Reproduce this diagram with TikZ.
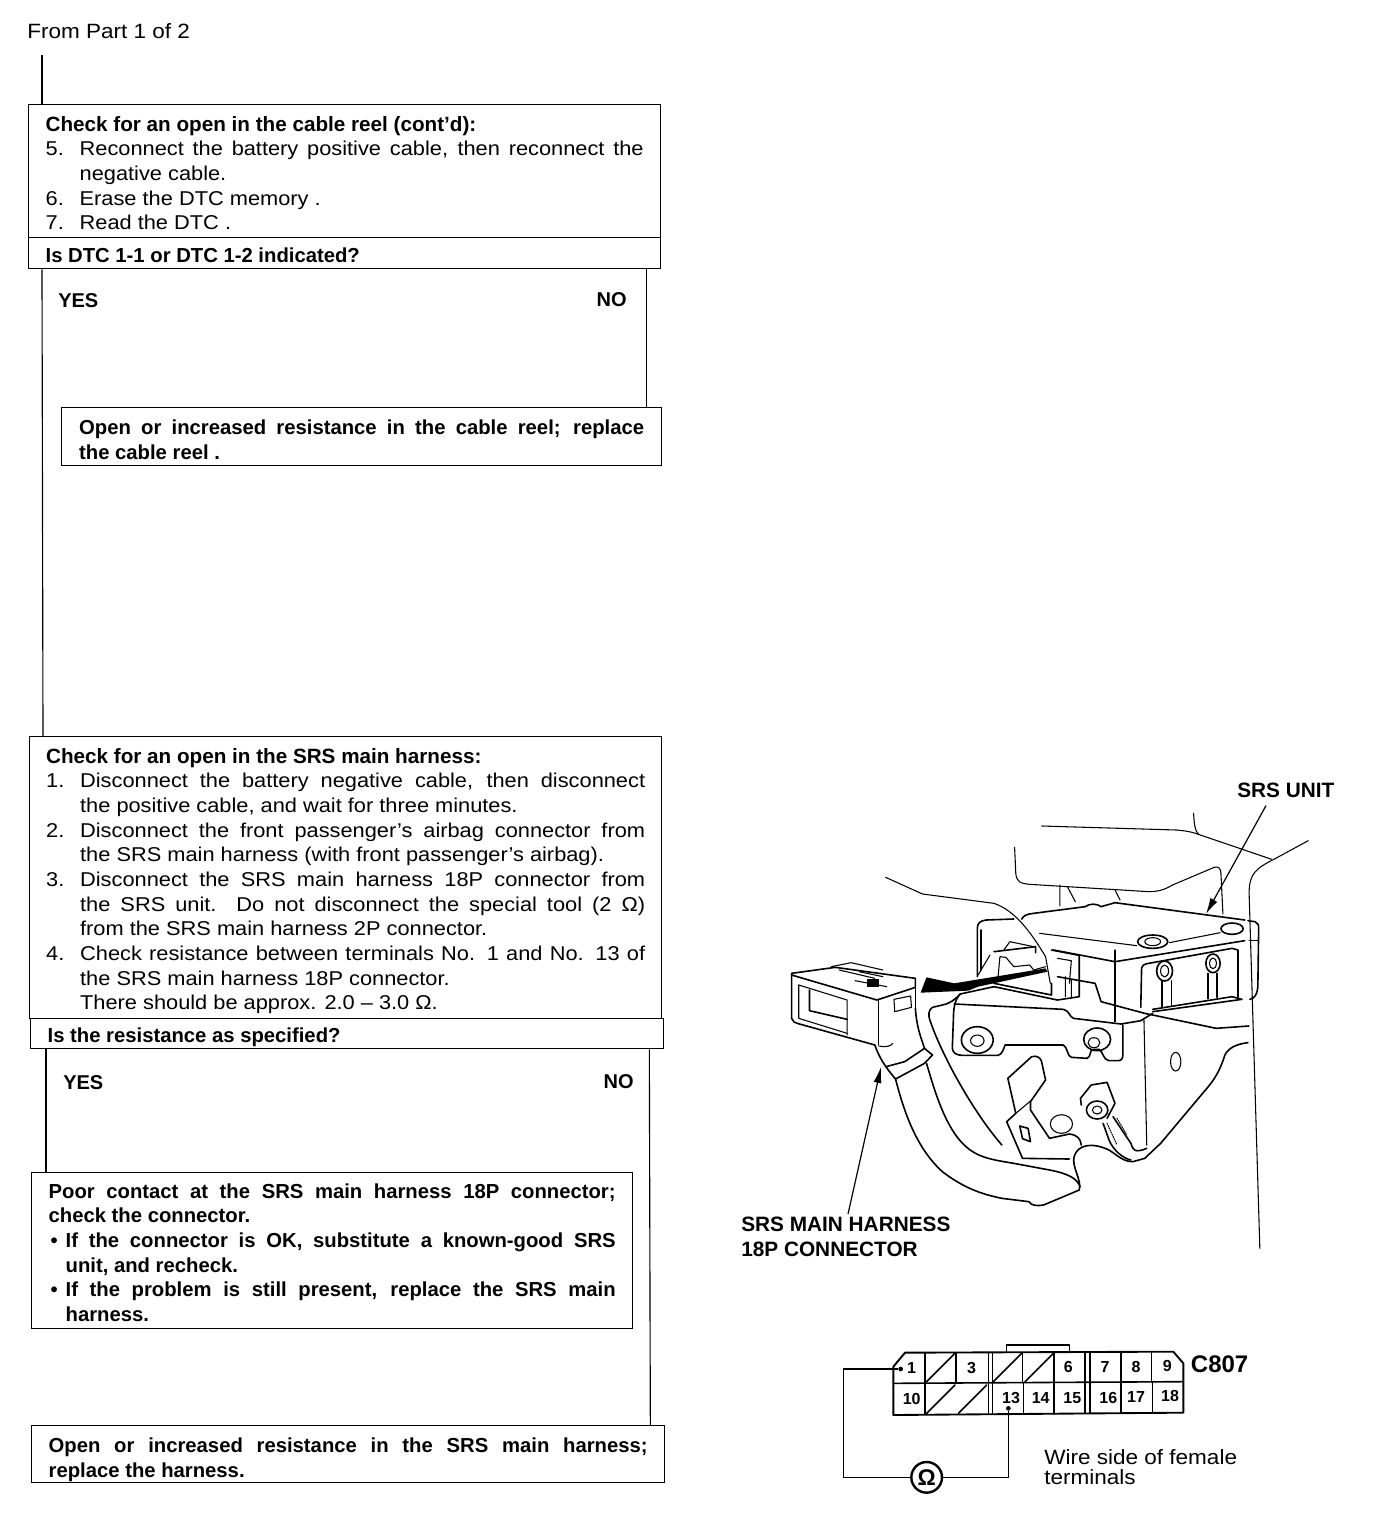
\documentclass[tikz,border=0pt]{standalone}
\usepackage{fontspec}
\setmainfont{Liberation Sans}
\newfontfamily\reg[FakeStretch=1.09]{Liberation Sans}
\usetikzlibrary{arrows.meta}
\newdimen\pxu \pxu=0.75pt
\newcommand{\tb}[3]{\vbox{\hsize=#1\pxu\vskip#2\pxu #3}}
\newcommand{\jl}[1]{\hbox to \hsize{#1}}
\newcommand{\nl}[2]{\hbox to \hsize{\hbox to 34\pxu{#1\hfil}#2}}
\newcommand{\cl}[1]{\hbox to \hsize{\hskip34\pxu #1}}
\newcommand{\rl}[1]{\hbox{#1}}
\newcommand{\ri}[1]{\hbox{\hskip34\pxu #1}}
\newcommand{\hd}[1]{\hbox{\normalfont\fontsize{15.5}{18.5}\selectfont\bfseries #1}}
\tikzset{
  stepbox/.style={draw,line width=1pt,anchor=north west,inner ysep=0pt,inner xsep=0pt,font=\reg\fontsize{15}{18.5}\selectfont},
  boldbox/.style={stepbox,font=\normalfont\fontsize{15.2}{18.5}\selectfont\bfseries},
  flow/.style={line width=0.85pt},
  tag/.style={anchor=west,inner sep=0pt,font=\fontsize{15}{18.5}\selectfont\bfseries},
  biglabel/.style={inner sep=0pt,font=\fontsize{15.6}{18.5}\selectfont\bfseries},
  plain/.style={anchor=west,inner sep=0pt,font=\reg\fontsize{15.5}{15}\selectfont},
  art/.style={line width=0.8pt,line join=round,line cap=round},
  thickart/.style={line width=1.2pt,line join=round,line cap=round},
  pin/.style={inner sep=0pt,font=\fontsize{12}{12}\selectfont\bfseries},
  probe/.style={circle,fill,inner sep=0pt,minimum size=3.5pt},
  lead/.style={line width=0.9pt,-{Latex[length=12pt,width=6pt]}},
}
\begin{document}
\begin{tikzpicture}[x=0.75pt,y=-0.75pt]
\useasboundingbox (0,0) rectangle (1376,1520);

\node[plain] (from) at (27,31) {From Part 1 of 2};

\node[stepbox,inner xsep=17\pxu,minimum height=133\pxu] (b1) at (28,104) {\tb{598}{4}{%
\hd{Check for an open in the cable reel (cont’d):}
\nl{5.}{Reconnect the battery positive cable, then reconnect the}
\ri{negative cable.}
\rl{\hbox to 34\pxu{6.\hfil}Erase the DTC memory .}
\rl{\hbox to 34\pxu{7.\hfil}Read the DTC .}}};
\node[boldbox,inner xsep=17\pxu,minimum height=31\pxu] (q1) at (28,237) {\tb{598}{4}{\jl{Is DTC 1-1 or DTC 1-2 indicated?\hfil}}};
\node[tag] (yes1) at (58,301) {YES};
\node[tag,anchor=east] (no1) at (627,300) {NO};
\node[boldbox,inner xsep=17.5\pxu,minimum height=58\pxu] (b2) at (61,407) {\tb{565}{6}{%
\jl{Open or increased resistance in the cable reel; replace}
\rl{the cable reel .}}};

\node[stepbox,inner xsep=16.5\pxu,minimum height=282\pxu] (b3) at (29,736) {\tb{599}{7}{%
\hd{Check for an open in the SRS main harness:}
\nl{1.}{Disconnect the battery negative cable, then disconnect}
\ri{the positive cable, and wait for three minutes.}
\nl{2.}{Disconnect the front passenger’s airbag connector from}
\ri{the SRS main harness (with front passenger’s airbag).}
\nl{3.}{Disconnect the SRS main harness 18P connector from}
\cl{the SRS unit. Do not disconnect the special tool (2 Ω)}
\ri{from the SRS main harness 2P connector.}
\nl{4.}{Check resistance between terminals No. 1 and No. 13 of}
\ri{the SRS main harness 18P connector.}
\ri{There should be approx. 2.0 – 3.0 Ω.}}};
\node[boldbox,inner xsep=17\pxu,minimum height=30\pxu] (q2) at (30,1018) {\tb{599}{8}{\jl{Is the resistance as specified?\hfil}}};
\node[tag] (yes2) at (63,1083) {YES};
\node[tag,anchor=east] (no2) at (634,1082) {NO};
\node[boldbox,inner xsep=17\pxu,minimum height=156\pxu] (b4) at (31,1172) {\tb{567}{4}{%
\jl{Poor contact at the SRS main harness 18P connector;}
\rl{check the connector.}
\hbox to \hsize{\hbox to 17\pxu{\hskip2\pxu•\hfil}If the connector is OK, substitute a known-good SRS}
\rl{\hskip17\pxu unit, and recheck.}
\hbox to \hsize{\hbox to 17\pxu{\hskip2\pxu•\hfil}If the problem is still present, replace the SRS main}
\rl{\hskip17\pxu harness.}}};
\node[boldbox,inner xsep=17\pxu,minimum height=57\pxu] (b5) at (31,1425) {\tb{599}{11}{%
\jl{Open or increased resistance in the SRS main harness;}
\rl{replace the harness.}}};

% flow connectors
\coordinate (fromfoot) at (42,55);
\draw[flow] (fromfoot) -- (fromfoot |- b1.north);
\draw[flow] ([xshift=14\pxu]q1.south west) -- ([xshift=14\pxu]b3.north west);
\draw[flow] ([xshift=-15\pxu]q1.south east) -- ([xshift=-16\pxu]b2.north east);
\draw[flow] ([xshift=16\pxu]q2.south west) -- ([xshift=15\pxu]b4.north west);
\draw[flow] ([xshift=-15\pxu]q2.south east) -- ([xshift=-15\pxu]b5.north east);

% illustration labels
\node[biglabel,anchor=west] (srsunit) at (1237,790) {SRS UNIT};
\node[biglabel,anchor=north west,align=left] (srsconn) at (741,1217) {SRS MAIN HARNESS\\18P CONNECTOR};

% illustration, traced
\begin{scope}[shift={(740,770)},x=0.2976pt,y=-0.25pt]
% background body lines
\draw[art] (760,168) -- (1100,180) .. controls (1130,183) and (1145,188) .. (1160,195) -- (1340,268);
\draw[art] (1143,130) .. controls (1145,165) and (1146,180) .. (1155,192);
\draw[art] (1432,212) -- (1350,265) .. controls (1300,295) and (1283,310) .. (1283,370) -- (1310,1435);
\draw[art] (692,232) -- (695,310) .. controls (697,335) and (705,340) .. (730,343) -- (1030,365) .. controls (1060,365) and (1075,355) .. (1090,345) -- (1195,292) .. controls (1205,288) and (1212,295) .. (1212,310) -- (1217,432);
\draw[art] (806,345) -- (806,408) (825,350) -- (845,395) (945,360) -- (958,390);
\draw[art] (367,322) -- (460,372) -- (640,400) .. controls (690,420) and (730,480) .. (770,560) -- (782,640);
% unit top
\draw[thickart] (710,447) .. controls (715,435) and (725,432) .. (740,430) -- (870,410) .. controls (880,400) and (900,400) .. (910,410) -- (945,398) -- (1272,450);
\draw[thickart] (690,447) -- (620,450) .. controls (605,452) and (598,460) .. (598,475) -- (598,620);
\draw[thickart] (608,480) -- (608,600);
\draw[art] (755,490) -- (1000,527);
\draw[art] (1082,518) -- (1210,488);
\draw[thickart] (1240,476) ellipse (28 and 17);
\draw[thickart] (1040,515) ellipse (38 and 20);
\draw[art] (1040,515) ellipse (20 and 12);
\draw[thickart] (790,540) -- (945,575) -- (1272,512);
\draw[art] (945,540) -- (945,755);
\draw[thickart] (1280,452) -- (1298,455) .. controls (1305,458) and (1308,465) .. (1307,480) -- (1305,650) .. controls (1304,670) and (1298,685) .. (1285,688);
\draw[art] (1283,512) -- (1305,512);
% window and eyelets
\draw[thickart] (1010,712) -- (1012,595) .. controls (1014,585) and (1020,582) .. (1030,580) -- (1240,535) -- (1255,540) -- (1255,682);
\draw[thickart] (1070,603) ellipse (20 and 30);
\draw[art] (1070,603) ellipse (10 and 18);
\draw[thickart] (1192,580) ellipse (18 and 28);
\draw[art] (1192,580) ellipse (9 and 16);
\draw[thickart] (1063,632) -- (1063,712) (1087,632) -- (1087,706);
\draw[thickart] (1180,610) -- (1180,686) (1202,610) -- (1202,682);
\draw[thickart] (1040,725) -- (1265,688) -- (1240,680) -- (1040,718);
% socket
\draw[thickart] (640,650) -- (800,690) -- (855,680) -- (855,556) -- (785,540);
\draw[thickart] (785,640) -- (785,675) -- (640,640);
\draw[thickart] (640,545) -- (745,530) -- (745,548);
\draw[art] (655,560) -- (650,625) (655,560) -- (670,562) -- (690,590) -- (730,585) -- (740,600) -- (770,590);
\draw[art] (680,515) -- (665,540) (680,515) -- (740,530);
\draw[art] (800,565) -- (835,572) -- (830,640) (820,620) -- (820,680) (835,630) -- (835,680);
\draw[art] (630,555) -- (600,615);
% unit bottom
\draw[thickart] (800,620) -- (895,640) -- (910,695) -- (1020,730) -- (1200,775) -- (1282,768);
\draw[thickart] (1040,730) -- (1010,752) -- (960,762);
\draw[art] (1018,750) -- (1025,1125);
\draw[art] (1098,875) ellipse (13 and 28);
% big arrow
\fill (455,668) -- (470,622) -- (540,640) -- (770,595) -- (775,605) -- (600,650) -- (575,662) -- cycle;
% connector housing
\draw[thickart] (130,615) -- (130,745) .. controls (132,755) and (138,758) .. (150,762) -- (340,825);
\draw[thickart] (130,615) -- (345,690) -- (442,652) -- (442,625) -- (240,592) -- (130,610) -- cycle;
\draw[thickart] (442,650) -- (442,715);
\draw[art] (350,690) -- (350,825);
\draw[art] (148,645) -- (270,690) -- (270,795);
\draw[art] (148,645) -- (148,745) -- (270,790);
\draw[thickart] (175,660) -- (175,722) -- (270,748);
\draw[art] (388,688) -- (430,678) -- (432,712) -- (390,725) -- cycle;
\draw[art] (230,590) -- (280,578) -- (360,600) (250,600) -- (340,625) (290,632) -- (370,650) (300,605) -- (360,620);
\fill (320,628) rectangle (350,650);
% harness boot and cable
\draw[thickart] (340,826) .. controls (350,860) and (365,890) .. (392,927) -- (465,880) -- (485,855) -- (465,835) -- (415,875) -- (368,890);
\draw[art] (350,828) .. controls (365,832) and (380,830) .. (385,820);
\draw[thickart] (442,715) .. controls (445,770) and (455,800) .. (465,835);
\draw[thickart] (392,927) .. controls (410,1010) and (440,1130) .. (510,1205) .. controls (570,1260) and (620,1275) .. (660,1285) -- (728,1295) .. controls (735,1308) and (750,1308) .. (765,1305) -- (855,1260) .. controls (862,1230) and (835,1190) .. (842,1160) .. controls (850,1125) and (885,1115) .. (930,1140) .. controls (950,1155) and (965,1175) .. (990,1175) -- (1020,1165) -- (1060,1120) -- (1180,950) .. controls (1205,915) and (1215,880) .. (1222,855) .. controls (1230,835) and (1250,822) .. (1280,818);
\draw[thickart] (470,880) .. controls (490,960) and (520,1090) .. (580,1140) .. controls (610,1165) and (640,1170) .. (690,1180) -- (780,1200) .. controls (825,1210) and (850,1225) .. (857,1250);
% bracket
\draw[thickart] (640,650) -- (555,672) .. controls (540,690) and (530,700) .. (510,705) -- (485,712) .. controls (475,720) and (473,735) .. (480,755) .. controls (510,860) and (590,1030) .. (660,1125);
\draw[thickart] (555,672) .. controls (540,690) and (538,720) .. (538,740) -- (535,835) .. controls (537,850) and (545,855) .. (560,856) -- (650,856) .. controls (660,855) and (665,835) .. (668,825) -- (815,825) .. controls (825,830) and (825,860) .. (835,862) -- (875,865) .. controls (885,860) and (880,840) .. (890,838) -- (905,838) .. controls (915,845) and (915,870) .. (930,872) -- (955,872) .. controls (965,870) and (965,860) .. (965,845) -- (965,765);
\draw[thickart] (540,702) -- (815,718) .. controls (830,722) and (830,740) .. (840,745) -- (960,762);
\draw[thickart] (598,810) circle (40);
\draw[art] (598,812) circle (17);
\draw[thickart] (900,808) circle (34);
\draw[art] (892,818) circle (15);
% tab
\draw[thickart] (675,925) -- (735,860) .. controls (750,855) and (758,865) .. (760,875) -- (770,930) -- (732,995) -- (732,1020) -- (780,1105) -- (830,1092) .. controls (850,1095) and (858,1105) .. (860,1125);
\draw[thickart] (675,925) -- (695,1030) -- (672,1055) -- (712,1165) -- (830,1167);
\draw[art] (695,1030) -- (735,990);
\draw[thickart] (705,1068) -- (726,1075) -- (732,1115) -- (712,1106) -- cycle;
\draw[art] (810,1062) circle (28);
% ground bolt and wire
\draw[thickart] (900,1020) circle (27);
\draw[art] (900,1020) circle (12);
\draw[thickart] (860,1005) -- (858,985) -- (885,945) -- (925,937) -- (945,1000) -- (925,1045);
\draw[thickart] (915,1060) -- (930,1110) .. controls (940,1140) and (965,1165) .. (985,1170);
\draw[thickart] (940,1040) -- (985,1120) .. controls (990,1140) and (995,1150) .. (1025,1135);
\draw[art,densely dotted] (925,1060) -- (950,1125) (950,1045) -- (975,1095);
\end{scope}
\coordinate (unitpt) at (1206,914);
\coordinate (connpt) at (881,1067);
\draw[lead] ([xshift=29\pxu,yshift=-8\pxu]srsunit.south west) -- (unitpt);
\draw[lead] ([xshift=107\pxu,yshift=3\pxu]srsconn.north west) -- (connpt);

% connector face C807
\begin{scope}[shift={(830,1330)},x=0.25pt,y=-0.25pt]
\draw[thickart,line width=1.4pt] (190,110) -- (225,68) -- (1030,65) -- (1060,100) -- (1060,248) -- (190,255) -- cycle;
\draw[thickart] (530,65) -- (530,45) -- (718,45) -- (718,65);
\draw[thickart] (190,160) -- (1060,155);
\foreach \x/\a/\b in {285/68/158,378/68/158,475/68/158,487/68/158,578/68/158,672/66/158,765/66/158,780/66/158,873/66/156,965/66/156,285/160/252,475/160/252,487/160/252,580/160/252,672/158/252,765/158/250,780/158/250,873/158/250,968/158/250}
  \draw[thickart] (\x,\a) -- (\x,\b);
\foreach \xa/\ya/\xb/\yb in {290/155/375/70,490/155/575/70,585/155/670/70,290/250/375/165,385/250/470/165}
  \draw[thickart] (\xa,\ya) -- (\xb,\yb);
\foreach \n/\x/\y in {1/245/115,3/425/115,6/715/112,7/825/112,8/918/110,9/1012/108,10/245/208,13/543/203,14/632/205,15/727/203,16/835/203,17/918/200,18/1020/198}
  \node[pin] (pin\n) at (\x,\y) {\n};
\node[probe] (p1) at (212,117) {};
\node[probe] (p13) at (535,235) {};
\node[circle,draw,line width=1.8pt,inner sep=0pt,minimum size=23pt,font=\fontsize{17}{17}\selectfont\bfseries] (meter) at (290,442) {Ω};
\coordinate (cornerA) at (40,117);
\coordinate (cornerB) at (40,442);
\coordinate (cornerC) at (535,442);
\draw[line width=1pt] (p1) -- (cornerA) -- (cornerB) -- (meter);
\draw[line width=1pt] (meter) -- (cornerC) -- (p13);
\node[tag,anchor=west,font=\fontsize{18}{18}\selectfont\bfseries] (c807) at (1082,103) {C807};
\end{scope}
\node[plain,align=left,anchor=north west] (wire) at (1044,1449) {Wire side of female\\terminals};
\end{tikzpicture}
\end{document}
